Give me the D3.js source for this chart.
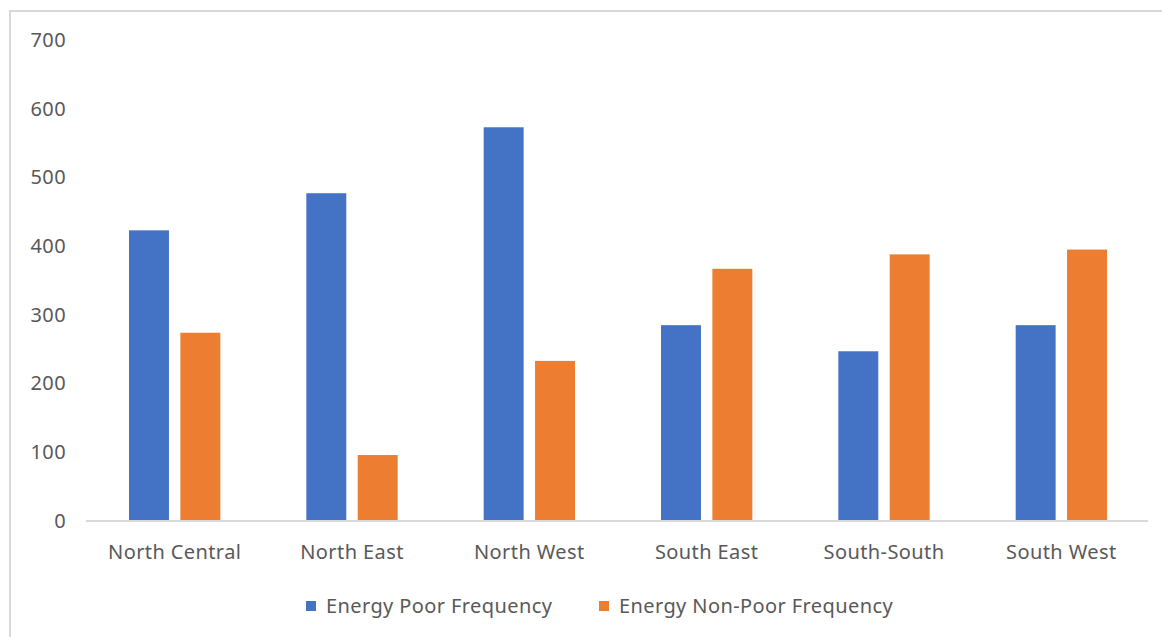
<!DOCTYPE html>
<html>
<head>
<meta charset="utf-8">
<script src="https://cdn.jsdelivr.net/npm/d3@7"></script>
<style>
  html, body { margin: 0; padding: 0; background: #fff; }
  svg { display: block; font-family: "Noto Sans", "Open Sans", sans-serif; }
</style>
</head>
<body>
<svg id="chart" width="1162" height="637"></svg>
<script>
// Regions and the two frequency series
const regions = ["North Central", "North East", "North West", "South East", "South-South", "South West"];
const seriesNames = ["Energy Poor Frequency", "Energy Non-Poor Frequency"];
const energyPoor = [423, 477, 573, 285, 247, 285];
const energyNonPoor = [274, 96, 233, 367, 388, 395];
const yTicks = [0, 100, 200, 300, 400, 500, 600, 700];
const colors = ["#4472c4", "#ed7d31"];

const svg = d3.select("#chart");
const textColor = "#595959";
const fontSize = 20;
const spacing = "0.4px";

// Chart frame
svg.append("rect")
  .attr("x", 10).attr("y", 11)
  .attr("width", 1170).attr("height", 640)
  .attr("fill", "none")
  .attr("stroke", "#d9d9d9")
  .attr("stroke-width", 2);

const plot = { left: 86, right: 1150, top: 40, bottom: 521 };

const x0 = d3.scaleBand()
  .domain(regions)
  .range([plot.left, plot.right])
  .paddingInner(0.485)
  .paddingOuter(0.2425);

const x1 = d3.scaleBand()
  .domain(seriesNames)
  .range([0, x0.bandwidth()])
  .paddingInner(0.222);

const y = d3.scaleLinear()
  .domain([0, 700])
  .range([plot.bottom, plot.top]);

// Y axis labels (no axis line, no gridlines)
const yAxis = d3.axisLeft(y).tickValues(yTicks).tickSize(0).tickPadding(0);
const yG = svg.append("g")
  .attr("transform", `translate(66,0)`)
  .call(yAxis);
yG.select(".domain").remove();
yG.selectAll("text")
  .attr("fill", textColor)
  .attr("font-size", fontSize)
  .attr("letter-spacing", spacing)
  .attr("font-family", "\"Noto Sans\", sans-serif");

// Bars
const rows = regions.map((r, i) => ({ region: r, values: [energyPoor[i], energyNonPoor[i]] }));
const groups = svg.append("g").selectAll("g")
  .data(rows)
  .join("g")
  .attr("transform", d => `translate(${x0(d.region)},0)`);

groups.selectAll("rect")
  .data(d => d.values.map((v, k) => ({ name: seriesNames[k], value: v, k })))
  .join("rect")
  .attr("x", d => x1(d.name))
  .attr("width", x1.bandwidth())
  .attr("y", d => y(d.value))
  .attr("height", d => y(0) - y(d.value))
  .attr("fill", d => colors[d.k]);

// X axis
const xAxis = d3.axisBottom(x0).tickSize(0).tickPadding(24);
const xG = svg.append("g")
  .attr("transform", `translate(0,${plot.bottom})`)
  .call(xAxis);
xG.select(".domain")
  .attr("d", `M${plot.left},0H1148`)
  .attr("stroke", "#d9d9d9")
  .attr("stroke-width", 2);
xG.selectAll("text")
  .attr("fill", textColor)
  .attr("font-size", fontSize)
  .attr("letter-spacing", spacing)
  .attr("font-family", "\"Noto Sans\", sans-serif");

// Legend
const legendY = 606;
const legendItems = [
  { name: seriesNames[0], color: colors[0], x: 306 },
  { name: seriesNames[1], color: colors[1], x: 599 }
];
const legend = svg.append("g");
legendItems.forEach(it => {
  legend.append("rect")
    .attr("x", it.x).attr("y", legendY - 5)
    .attr("width", 10).attr("height", 10)
    .attr("fill", it.color);
  legend.append("text")
    .attr("x", it.x + 20).attr("y", legendY)
    .attr("dy", "0.35em")
    .attr("fill", textColor)
    .attr("font-size", fontSize)
    .attr("letter-spacing", spacing)
    .text(it.name);
});
</script>
</body>
</html>
